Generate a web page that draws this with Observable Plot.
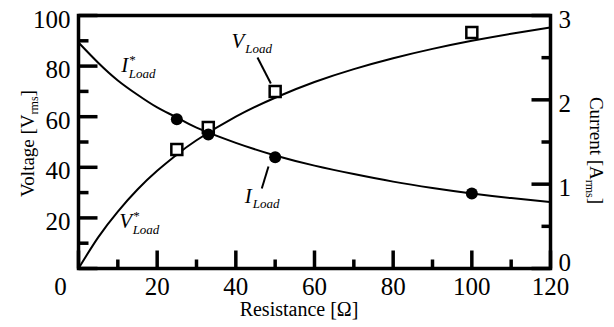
<!DOCTYPE html>
<html><head><meta charset="utf-8">
<script src="https://cdn.jsdelivr.net/npm/d3@7"></script>
<script src="https://cdn.jsdelivr.net/npm/@observablehq/plot@0.6"></script>
<style>
body{margin:0;background:#fff} svg{display:block}
svg text, svg tspan {font-family: "Liberation Serif", "Times New Roman", serif !important; font-variant: normal !important;}
</style>
</head><body>
<script>
// Curves (resistance in ohm, voltage in Vrms, current in Arms)
const resistanceCurve = [0, 5, 10, 15, 20, 25, 30, 40, 50, 60, 70, 80, 90, 100, 110, 120];
const voltageCurve = [0, 12.3, 22.5, 31.2, 38.6, 45.0, 50.7, 60.0, 67.5, 73.7, 78.8, 83.1, 86.8, 90.0, 92.8, 95.3];
const currentCurve = [2.68, 2.44, 2.23, 2.06, 1.91, 1.79, 1.67, 1.49, 1.34, 1.22, 1.12, 1.03, 0.955, 0.89, 0.835, 0.787];
// Measured points
const resistanceMeas = [25, 33, 50, 100];
const voltageMeas = [47, 55.7, 70, 93.3];
const currentMeas = [1.77, 1.59, 1.32, 0.89];
// Ticks
const xMajor = [0, 20, 40, 60, 80, 100, 120];
const xMinor = [10, 30, 50, 70, 90, 110];
const vMajor = [0, 20, 40, 60, 80, 100];
const vMinor = [10, 30, 50, 70, 90];
const iMajor = [0, 1, 2, 3];
const iMinor = [0.5, 1.5, 2.5];
const vMax = 100, iMax = 3, rMax = 120;
const k = vMax / iMax;
// Annotations (data coordinates of label baseline start, left scale units)
const annotations = [
  {base: "I", sup: "*", sub: "Load", r: 11.0, v: 77.5, subDy: 6},
  {base: "V", sup: "", sub: "Load", r: 39.0, v: 87.0, subDy: 5},
  {base: "I", sup: "", sub: "Load", r: 42.4, v: 25.7, subDy: 5},
  {base: "V", sup: "*", sub: "Load", r: 10.5, v: 15.8, subDy: 6}
];
const leaders = [
  {r1: 45.5, v1: 83.4, r2: 48.9, v2: 73.1},
  {r1: 48.3, v1: 40.3, r2: 46.6, v2: 31.6}
];

const vCurve = resistanceCurve.map((r, i) => ({r, v: voltageCurve[i]}));
const iCurve = resistanceCurve.map((r, i) => ({r, i: currentCurve[i]}));
const vMeas = resistanceMeas.map((r, i) => ({r, v: voltageMeas[i]}));
const iMeas = resistanceMeas.map((r, i) => ({r, i: currentMeas[i]}));

const tickShape = {draw(context, l) { context.moveTo(0, 0); context.lineTo(0, -l); }};
const tickOpts = {shape: tickShape, anchor: "start", stroke: "black", strokeWidth: 3.5, strokeLinecap: "butt"};
const font = "Liberation Serif";
const axisText = {tickSize: 0, label: null, fontSize: 25, fontFamily: font, fontVariant: "normal", fill: "black"};

const plot = Plot.plot({
  width: 614, height: 327,
  marginLeft: 78, marginRight: 64, marginTop: 15, marginBottom: 59,
  style: {fontFamily: font, fontSize: "25px", color: "black", background: "white"},
  x: {domain: [0, rMax]},
  y: {domain: [0, vMax]},
  marks: [
    Plot.line(vCurve, {x: "r", y: "v", curve: "natural", strokeWidth: 2, stroke: "black"}),
    Plot.line(iCurve, {x: "r", y: d => d.i * k, curve: "natural", strokeWidth: 2, stroke: "black"}),
    Plot.link(leaders, {x1: "r1", y1: "v1", x2: "r2", y2: "v2", stroke: "black", strokeWidth: 2}),
    Plot.dot(vMeas, {x: "r", y: "v", symbol: "square", r: 6.2, fill: "white", stroke: "black", strokeWidth: 2.5}),
    Plot.dot(iMeas, {x: "r", y: d => d.i * k, r: 6, fill: "black", stroke: "none"}),
    // ticks (inside)
    Plot.vector(xMajor, {x: d => d, y: 0, length: 18, rotate: 0, ...tickOpts}),
    Plot.vector(xMinor, {x: d => d, y: 0, length: 9, rotate: 0, ...tickOpts}),
    Plot.vector(vMajor, {x: 0, y: d => d, length: 19, rotate: 90, ...tickOpts}),
    Plot.vector(vMinor, {x: 0, y: d => d, length: 10, rotate: 90, ...tickOpts}),
    Plot.vector(iMajor, {x: rMax, y: d => d * k, length: 19, rotate: -90, ...tickOpts}),
    Plot.vector(iMinor, {x: rMax, y: d => d * k, length: 9, rotate: -90, ...tickOpts}),
    Plot.frame({stroke: "black", strokeWidth: 3.5}),
    // tick labels
    Plot.axisX(xMajor.filter(d => d !== 0), {...axisText, tickPadding: 9}),
    Plot.axisX([0], {...axisText, tickPadding: 9, dx: -18}),
    Plot.axisY(vMajor.filter(d => d !== 0), {...axisText, anchor: "left", tickPadding: 8, dy: 4}),
    Plot.axisY(iMajor.filter(d => d !== 0).map(d => d * k), {...axisText, anchor: "right", tickPadding: 8, dy: 4, tickFormat: d => String(Math.round(d / k))}),
    Plot.axisY([0], {...axisText, anchor: "right", tickPadding: 8, dy: -6, tickFormat: () => "0"})
  ]
});
document.body.appendChild(plot);

const x = plot.scale("x"), y = plot.scale("y");
const svg = d3.select(plot);
svg.attr("font-family", font);
svg.selectAll("g").attr("font-family", font);

// annotations with super/subscripts
for (const a of annotations) {
  const t = svg.append("text")
    .attr("x", x.apply(a.r)).attr("y", y.apply(a.v))
    .attr("text-anchor", "start")
    .attr("font-family", font).attr("fill", "black");
  t.append("tspan").attr("font-style", "italic").attr("font-size", 21).text(a.base);
  if (a.sup) {
    t.append("tspan").attr("font-size", 13).attr("dy", -8).attr("dx", 1).text(a.sup);
    t.append("tspan").attr("font-style", "italic").attr("font-size", 13).attr("dx", -7).attr("dy", 8 + a.subDy).text(a.sub);
  } else {
    t.append("tspan").attr("font-style", "italic").attr("font-size", 13).attr("dx", 1).attr("dy", a.subDy).text(a.sub);
  }
}

// axis titles
const x0 = x.apply(0), x1 = x.apply(rMax), yb = y.apply(0), yt = y.apply(vMax);
svg.append("text")
  .attr("x", (x0 + x1) / 2 - 15).attr("y", yb + 48)
  .attr("text-anchor", "middle").attr("font-family", font).attr("font-size", 20).attr("fill", "black")
  .text("Resistance [Ω]");

const vt = svg.append("text")
  .attr("transform", `translate(${x0 - 44},${(yb + yt) / 2 + 2}) rotate(-90)`)
  .attr("text-anchor", "middle").attr("font-family", font).attr("font-size", 19).attr("fill", "black");
vt.append("tspan").text("Voltage [V");
vt.append("tspan").attr("font-size", 12).attr("dy", 4).text("rms");
vt.append("tspan").attr("dy", -4).text("]");

const ct = svg.append("text")
  .attr("transform", `translate(${x1 + 40},${(yb + yt) / 2 + 9}) rotate(90)`)
  .attr("text-anchor", "middle").attr("font-family", font).attr("font-size", 19).attr("fill", "black");
ct.append("tspan").text("Current [A");
ct.append("tspan").attr("font-size", 12).attr("dy", 4).text("rms");
ct.append("tspan").attr("dy", -4).text("]");
</script>
</body></html>
